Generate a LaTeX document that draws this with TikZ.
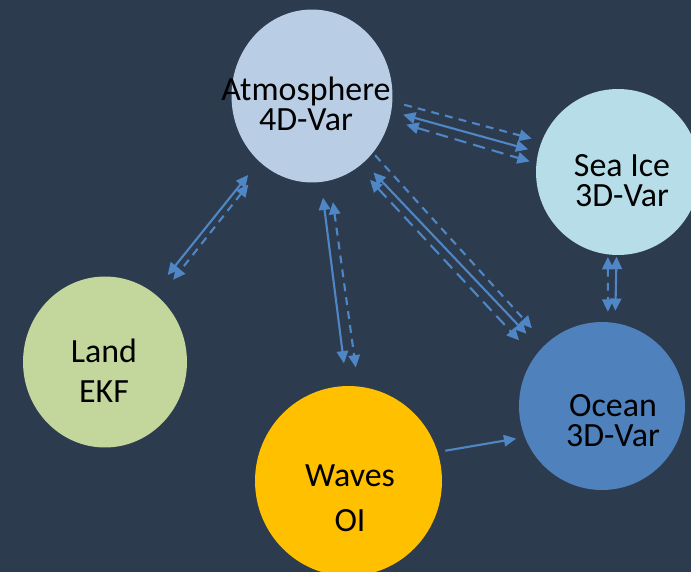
\documentclass[tikz,border=0pt]{standalone}
\usepackage{fontspec}
\setmainfont{Carlito}
\usetikzlibrary{shapes.geometric,arrows.meta}
\definecolor{bgnavy}{HTML}{2D3B4E}
\definecolor{arrowblue}{HTML}{4F86C6}
\definecolor{atmblue}{HTML}{B9CDE5}
\definecolor{iceblue}{HTML}{B7DEE8}
\definecolor{landgreen}{HTML}{C3D69B}
\definecolor{waveyellow}{HTML}{FFC000}
\definecolor{oceanblue}{HTML}{4F81BD}
\tikzset{
  comp/.style={ellipse,inner sep=0pt,outer sep=0pt},
  txt/.style={align=center,inner sep=0pt,text=black},
  flow/.style={line width=1.2pt,arrowblue,>={Triangle[length=7pt,width=6.5pt]}},
  shortdash/.style={dash pattern=on 4.5pt off 3.5pt},
  longdash/.style={dash pattern=on 7pt off 4pt},
  ends/.style 2 args={shorten <=#1pt,shorten >=#2pt}
}
\newcommand{\comp}[6]{\node[comp,fill=#2,minimum width=#5,minimum height=#6] (#1) at (#3,#4) {};}
\newcommand{\modeltext}[5]{\node[txt,font=\fontsize{19.3}{#2}\selectfont] (#1) at (#3,#4) {#5};}
\newcommand{\link}[3][]{\draw[flow,#1] (#2) -- (#3);}

\begin{document}
\begin{tikzpicture}[x=0.02cm,y=-0.02cm]
    \fill[bgnavy] (0,0) rectangle (691,572);
    \useasboundingbox (0,0) rectangle (691,572);
    \comp{atm}{atmblue}{312}{96}{3.22cm}{3.46cm}
    \comp{ice}{iceblue}{618}{172}{3.28cm}{3.32cm}
    \comp{land}{landgreen}{105}{362}{3.28cm}{3.42cm}
    \comp{waves}{waveyellow}{348.5}{481}{3.74cm}{3.80cm}
    \comp{ocean}{oceanblue}{602}{406}{3.32cm}{3.36cm}

    % atmosphere - sea ice
    \link[->,shortdash,ends={7}{6}]{atm.-4}{ice.158}
    \link[<->,ends={7}{6}]{atm.-11}{ice.166}
    \link[<->,longdash,ends={10}{4}]{atm.-17}{ice.174}
    % atmosphere - land
    \link[<->,ends={10}{13}]{atm.-129}{land.55}
    \link[<->,shortdash,ends={14}{13}]{atm.-125}{land.50}
    % atmosphere - waves
    \link[<->,ends={9}{13}]{atm.-84}{waves.91}
    \link[<->,shortdash,ends={12.5}{11}]{atm.-78}{waves.84}
    % atmosphere - ocean
    \link[->,shortdash,ends={2}{12}]{atm.-43}{ocean.132}
    \link[<->,ends={8}{12}]{atm.-52}{ocean.137}
    \link[<->,longdash,ends={10}{13}]{atm.-57}{ocean.144}
    % sea ice - ocean, waves - ocean
    \link[<->,shortdash,ends={1.5}{6}]{ice.-97}{ocean.86}
    \link[<->,ends={1}{7}]{ice.-91}{ocean.81}
    \link[->,ends={4.5}{5}]{waves.18}{ocean.-158}

    \modeltext{atmtxt}{17.2}{306}{103.5}{Atmosphere\\4D-Var}
    \modeltext{icetxt}{17.2}{622}{181}{Sea Ice\\3D-Var}
    \modeltext{landtxt}{22.8}{104}{370.5}{Land\\EKF}
    \modeltext{wavestxt}{25.6}{350}{498.5}{Waves\\OI}
    \modeltext{oceantxt}{17.2}{613}{421}{Ocean\\3D-Var}
\end{tikzpicture}
\end{document}
